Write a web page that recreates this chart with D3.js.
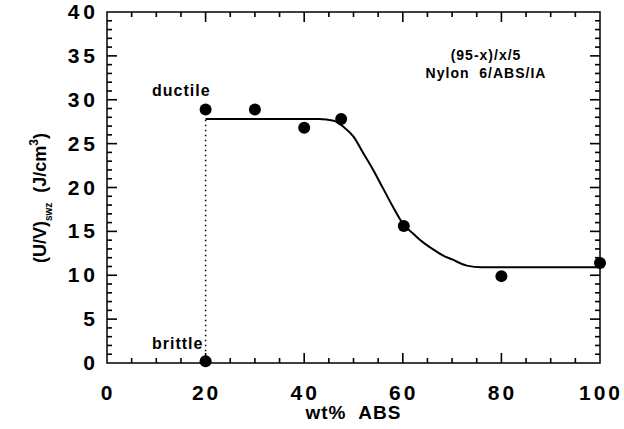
<!DOCTYPE html>
<html>
<head>
<meta charset="utf-8">
<script src="https://cdn.jsdelivr.net/npm/d3@7"></script>
<style>
  body { margin: 0; background: #fff; }
  text { font-family: "Liberation Sans", Arial, sans-serif; font-weight: bold; fill: #000; white-space: pre; }
</style>
</head>
<body>
<div id="chart"></div>
<script>
// measured points
const wtABS = [20, 30, 40, 47.5, 60.2, 80, 100, 20];
const energy = [28.9, 28.9, 26.8, 27.8, 15.6, 9.9, 11.4, 0.2];

// fitted curve
const curveX = [20, 43, 46, 48, 50, 52, 54, 56, 58, 60, 62, 64, 66, 68, 70, 73, 76, 100];
const curveY = [27.8, 27.8, 27.6, 26.9, 25.8, 23.9, 22.0, 19.9, 17.8, 15.9, 14.8, 13.8, 13.0, 12.3, 11.8, 11.1, 10.9, 10.9];

const xTicks = [0, 20, 40, 60, 80, 100];
const yTicks = [0, 5, 10, 15, 20, 25, 30, 35, 40];

// set the dimensions and margins of the graph
let margin = { top: 12, right: 24, bottom: 66, left: 107 },
  width = 624 - margin.left - margin.right,
  height = 429 - margin.top - margin.bottom;

let x = d3.scaleLinear().domain([0, 100]).range([0, width]);
let y = d3.scaleLinear().domain([0, 40]).range([height, 0]);

let svg = d3.select("#chart").append("svg")
  .attr("width", 624)
  .attr("height", 429)
  .append("g")
  .attr("transform", "translate(" + margin.left + "," + margin.top + ")");

// frame
svg.append("rect")
  .attr("width", width)
  .attr("height", height)
  .attr("fill", "none")
  .attr("stroke", "#000")
  .attr("stroke-width", 1.5);

// inward ticks on all four sides, as thin filled rects
const xTickVals = d3.range(5, 100, 5);
const yTickVals = d3.range(1, 40, 1);
const xLen = v => (v % 20 === 0 ? 10 : 5);
const yLen = v => (v % 5 === 0 ? 10 : 5);

svg.selectAll(".xtb").data(xTickVals).enter().append("rect")
  .attr("class", "xtb")
  .attr("x", d => x(d) - 0.8).attr("width", 1.6)
  .attr("y", d => height - xLen(d)).attr("height", d => xLen(d))
  .attr("fill", "#000");
svg.selectAll(".xtt").data(xTickVals).enter().append("rect")
  .attr("class", "xtt")
  .attr("x", d => x(d) - 0.8).attr("width", 1.6)
  .attr("y", 0).attr("height", d => xLen(d))
  .attr("fill", "#000");
svg.selectAll(".ytl").data(yTickVals).enter().append("rect")
  .attr("class", "ytl")
  .attr("y", d => y(d) - 0.8).attr("height", 1.6)
  .attr("x", 0).attr("width", d => yLen(d))
  .attr("fill", "#000");
svg.selectAll(".ytr").data(yTickVals).enter().append("rect")
  .attr("class", "ytr")
  .attr("y", d => y(d) - 0.8).attr("height", 1.6)
  .attr("x", d => width - yLen(d)).attr("width", d => yLen(d))
  .attr("fill", "#000");

// tick labels
svg.selectAll(".xlab")
  .data(xTicks)
  .enter().append("text")
  .attr("class", "xlab")
  .attr("x", d => x(d) + 1)
  .attr("y", height + 37)
  .attr("text-anchor", "middle")
  .style("font-size", "21px")
  .style("letter-spacing", "3px")
  .text(d => d);

svg.selectAll(".ylab")
  .data(yTicks)
  .enter().append("text")
  .attr("class", "ylab")
  .attr("x", -8)
  .attr("y", d => y(d) + 7)
  .attr("text-anchor", "end")
  .style("font-size", "21px")
  .style("letter-spacing", "4px")
  .text(d => d);

// axis titles
svg.append("text")
  .attr("x", x(50))
  .attr("y", height + 56)
  .attr("text-anchor", "middle")
  .style("font-size", "19px")
  .style("letter-spacing", "1px")
  .text("wt%  ABS");

let yTitle = svg.append("text")
  .attr("transform", "translate(-61," + y(18.8) + ") rotate(-90)")
  .attr("text-anchor", "middle")
  .style("font-size", "18px");
yTitle.append("tspan").text("(U/V)");
yTitle.append("tspan").attr("dy", 6).style("font-size", "10px").text("swz");
yTitle.append("tspan").attr("dy", -6).text("  (J/cm");
yTitle.append("tspan").attr("dy", -8).style("font-size", "12px").text("3");
yTitle.append("tspan").attr("dy", 8).text(")");

// dotted line from brittle to ductile
svg.append("line")
  .attr("x1", x(20)).attr("x2", x(20))
  .attr("y1", y(energy[7])).attr("y2", y(curveY[0]))
  .attr("stroke", "#000")
  .attr("stroke-width", 1.5)
  .attr("stroke-dasharray", "1.5,3.5");

// fitted curve
let valueline = d3.line()
  .x((d, i) => x(curveX[i]))
  .y(d => y(d))
  .curve(d3.curveMonotoneX);

svg.append("path")
  .datum(curveY)
  .attr("fill", "none")
  .attr("stroke", "#000")
  .attr("stroke-width", 2)
  .attr("d", valueline);

// data points
svg.selectAll(".dot")
  .data(energy)
  .enter().append("circle")
  .attr("class", "dot")
  .attr("cx", (d, i) => x(wtABS[i]))
  .attr("cy", d => y(d))
  .attr("r", 6)
  .attr("fill", "#000");

// annotations
svg.append("text").attr("x", 45).attr("y", 84)
  .style("font-size", "16px").style("letter-spacing", "1px").text("ductile");
svg.append("text").attr("x", 45).attr("y", 337)
  .style("font-size", "16px").style("letter-spacing", "1px").text("brittle");

svg.append("text").attr("x", 379).attr("y", 48)
  .attr("text-anchor", "middle")
  .style("font-size", "14px").style("letter-spacing", "1px")
  .text("(95-x)/x/5");
svg.append("text").attr("x", 379).attr("y", 66)
  .attr("text-anchor", "middle")
  .style("font-size", "14px").style("letter-spacing", "1px")
  .text("Nylon  6/ABS/IA");
</script>
</body>
</html>
